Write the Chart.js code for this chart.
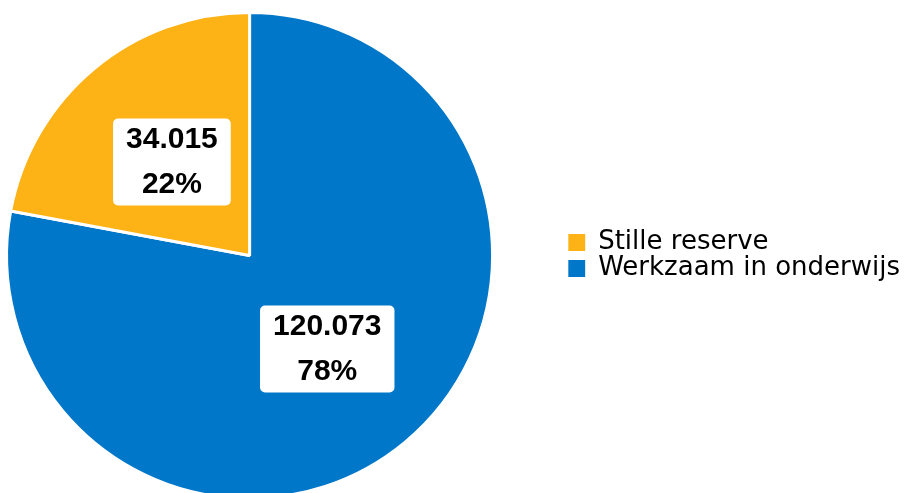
<!DOCTYPE html>
<html>
<head>
<meta charset="utf-8">
<script src="https://cdn.jsdelivr.net/npm/chart.js@4/dist/chart.umd.min.js"></script>
<style>
  html, body { margin: 0; padding: 0; background: #fff; overflow: hidden; }
  #wrap { width: 904px; height: 510px; overflow: hidden; }
  #chart { margin-left: -69px; display: block; }
</style>
</head>
<body>
<div id="wrap"><canvas id="chart" width="984" height="510"></canvas></div>
<script>
  var categorieen = ["Werkzaam in onderwijs", "Stille reserve"];
  var aantallen = [120073, 34015];
  var kleuren = ["#0077c8", "#fdb215"];

  // 34015 -> "34.015"
  function formatNL(n) {
    return String(n).replace(/\B(?=(\d{3})+(?!\d))/g, ".");
  }

  // witte kaders met aantal + percentage in elk segment
  var labelPlugin = {
    id: "labelKaders",
    afterDatasetsDraw: function(chart) {
      var ctx = chart.ctx;
      var meta = chart.getDatasetMeta(0);
      var data = chart.data.datasets[0].data;
      var totaal = data.reduce(function(a, b) { return a + b; }, 0);
      ctx.save();
      ctx.font = "bold 30px 'Liberation Sans', Arial, sans-serif";
      ctx.textAlign = "center";
      ctx.textBaseline = "middle";
      meta.data.forEach(function(arc, i) {
        var pos = arc.tooltipPosition(true);
        var regels = [formatNL(data[i]), Math.round(data[i] / totaal * 100) + "%"];
        var w = Math.max(ctx.measureText(regels[0]).width, ctx.measureText(regels[1]).width) + 26;
        var h = 87;
        ctx.fillStyle = "#fff";
        ctx.beginPath();
        ctx.roundRect(pos.x - w / 2, pos.y - h / 2, w, h, 5);
        ctx.fill();
        ctx.fillStyle = "#000";
        ctx.fillText(regels[0], pos.x, pos.y - 22);
        ctx.fillText(regels[1], pos.x, pos.y + 23);
      });
      ctx.restore();
    }
  };

  var basisLabels = (Chart.overrides.pie || Chart.overrides.doughnut).plugins.legend.labels.generateLabels;

  var chart = new Chart(document.getElementById("chart"), {
    type: "pie",
    data: {
      labels: categorieen,
      datasets: [
        {
          data: aantallen,
          backgroundColor: kleuren,
          borderColor: "#fff",
          borderWidth: 3
        }
      ]
    },
    options: {
      responsive: false,
      animation: false,
      layout: {
        padding: { left: 0, right: 5, top: 11, bottom: 10 }
      },
      plugins: {
        tooltip: { enabled: false },
        legend: {
          position: "right",
          reverse: true,
          labels: {
            color: "#000",
            font: { family: "'DejaVu Sans', sans-serif", size: 26 },
            boxWidth: 17,
            boxHeight: 17,
            padding: 0,
            generateLabels: function(c) {
              var items = basisLabels(c);
              items.forEach(function(it) { it.lineWidth = 0; });
              return items;
            }
          }
        }
      }
    },
    plugins: [labelPlugin]
  });
</script>
</body>
</html>
